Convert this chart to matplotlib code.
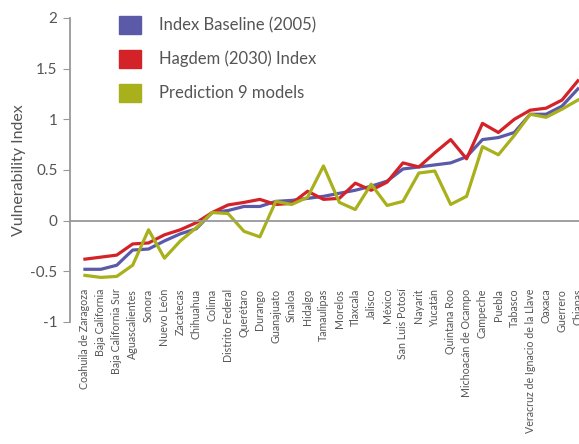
import matplotlib
matplotlib.use('Agg')
import matplotlib.pyplot as plt
from matplotlib.patches import Patch

plt.rcParams['font.family'] = ['Lato', 'DejaVu Sans']
plt.rcParams['axes.unicode_minus'] = False

states = ['Coahuila de Zaragoza', 'Baja California', 'Baja California Sur', 'Aguascalientes',
          'Sonora', 'Nuevo León', 'Zacatecas', 'Chihuahua', 'Colima', 'Distrito Federal',
          'Querétaro', 'Durango', 'Guanajuato', 'Sinaloa', 'Hidalgo', 'Tamaulipas',
          'Morelos', 'Tlaxcala', 'Jalisco', 'México', 'San Luis Potosí', 'Nayarit',
          'Yucatán', 'Quintana Roo', 'Michoacán de Ocampo', 'Campeche', 'Puebla',
          'Tabasco', 'Veracruz de Ignacio de la Llave', 'Oaxaca', 'Guerrero', 'Chiapas']

baseline = [-0.48, -0.48, -0.44, -0.29, -0.28, -0.20, -0.13, -0.08, 0.08, 0.10,
            0.14, 0.14, 0.19, 0.20, 0.22, 0.24, 0.27, 0.30, 0.34, 0.39,
            0.51, 0.53, 0.55, 0.57, 0.63, 0.80, 0.82, 0.87, 1.05, 1.05,
            1.13, 1.30]
hagdem = [-0.38, -0.36, -0.34, -0.23, -0.22, -0.14, -0.09, -0.02, 0.08, 0.155,
          0.18, 0.21, 0.16, 0.17, 0.29, 0.21, 0.22, 0.37, 0.30, 0.38,
          0.57, 0.53, 0.67, 0.80, 0.61, 0.96, 0.87, 1.00, 1.09, 1.11,
          1.19, 1.38]
prediction = [-0.54, -0.56, -0.55, -0.44, -0.09, -0.37, -0.20, -0.07, 0.08, 0.07,
              -0.105, -0.16, 0.19, 0.16, 0.23, 0.54, 0.18, 0.11, 0.36, 0.15,
              0.19, 0.47, 0.49, 0.16, 0.24, 0.73, 0.65, 0.84, 1.05, 1.02,
              1.10, 1.19]

blue = '#5b5aa9'
red = '#d42229'
green = '#a8b01c'
gray = '#555555'

fig = plt.figure(figsize=(5.79, 4.44), dpi=100)
ax = fig.add_axes([70/579, 0.2748, 509/579, 0.6847])

# spine position first: moving it resets the tick labels
for s in ['top', 'right']:
    ax.spines[s].set_visible(False)
ax.spines['bottom'].set_position(('data', 0))
ax.spines['bottom'].set_color('#999999')
ax.spines['bottom'].set_linewidth(1.3)
ax.spines['left'].set_color('#999999')
ax.spines['left'].set_linewidth(1.3)

x = range(len(states))
ax.plot(x, baseline, color=blue, lw=2.3)
ax.plot(x, hagdem, color=red, lw=2.3)
ax.plot(x, prediction, color=green, lw=2.3)

ax.set_xlim(-0.94, 31.07)
ax.set_ylim(-1, 2)
ax.set_yticks([-1, -0.5, 0, 0.5, 1, 1.5, 2])
ax.set_yticklabels(['-1', '-0.5', '0', '0.5', '1', '1.5', '2'])
ax.set_xticks(list(x))
ax.set_xticklabels(states, rotation=90, fontsize=7.7, color=gray, va='top')

ax.tick_params(axis='x', length=0, pad=49)
ax.tick_params(axis='y', length=5, color='#999999', labelsize=11, labelcolor=gray, pad=4)

ax.set_ylabel('Vulnerability Index', fontsize=11.5, color=gray, labelpad=3)

handles = [Patch(color=blue), Patch(color=red), Patch(color=green)]
labels = ['Index Baseline (2005)', 'Hagdem (2030) Index', 'Prediction 9 models']
leg = fig.legend(handles, labels, loc='upper left', bbox_to_anchor=(119/579, 0.965),
                 frameon=False, fontsize=12, handlelength=1.3, handleheight=1.3,
                 handletextpad=1.08, labelspacing=0.95, borderpad=0, borderaxespad=0)
for t in leg.get_texts():
    t.set_color(gray)

plt.savefig('out.png', dpi=100)
